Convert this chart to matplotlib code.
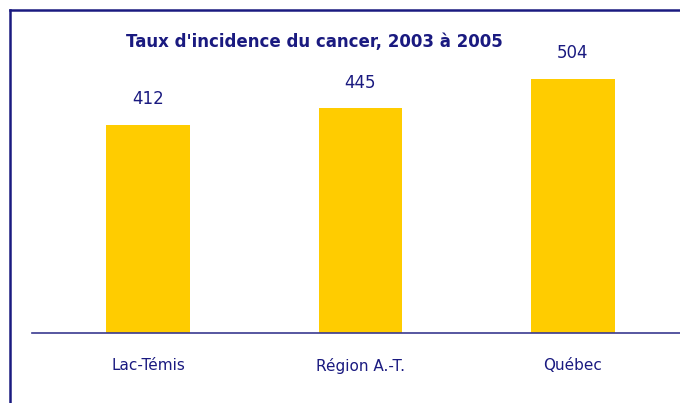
import matplotlib.pyplot as plt
from matplotlib.lines import Line2D

categories = ["Lac-Témis", "Région A.-T.", "Québec"]
taux = [412, 445, 504]

NAVY = "#1a1a80"
YELLOW = "#ffcc00"

fig = plt.figure(figsize=(6.8, 4.03), dpi=100)
ax = fig.add_axes([32 / 680, 70 / 403, 648 / 680, 324 / 403])

x = range(len(categories))
bars = ax.bar(x, taux, width=0.395, color=YELLOW)
for b, v in zip(bars, taux):
    ax.text(b.get_x() + b.get_width() / 2, v + 51, str(v),
            ha="center", va="center", fontsize=12, color=NAVY)

ax.set_xlim(-0.546, 2.504)
ax.set_ylim(0, 642)
ax.set_xticks(list(x))
ax.set_xticklabels(categories, fontsize=11, color=NAVY)
ax.tick_params(axis="x", length=0, pad=18)
ax.set_yticks([])
for side in ["top", "right", "left"]:
    ax.spines[side].set_visible(False)
ax.spines["bottom"].set_color("#3a3a90")
ax.spines["bottom"].set_linewidth(1.2)

# cadre gauche + haut
fig.add_artist(Line2D([9.5 / 680, 9.5 / 680], [0, 1 - 9.5 / 403],
                      transform=fig.transFigure, color=NAVY, lw=1.8))
fig.add_artist(Line2D([9.5 / 680, 1], [1 - 9.5 / 403, 1 - 9.5 / 403],
                      transform=fig.transFigure, color=NAVY, lw=1.8))

fig.text(314 / 680, 1 - 42 / 403, "Taux d'incidence du cancer, 2003 à 2005",
         ha="center", va="center", fontsize=12, fontweight="bold", color=NAVY)

fig.savefig("out.png", dpi=100)
